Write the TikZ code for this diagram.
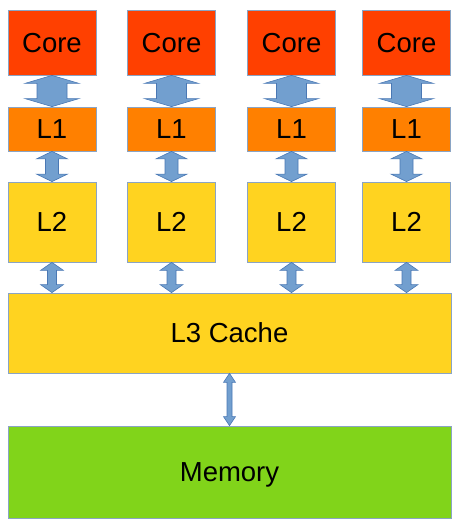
\documentclass[tikz,border=0pt]{standalone}
\usepackage{fontspec}
\setmainfont{Liberation Sans}
\usepackage{xcolor}
\usepackage{tikz}
\usetikzlibrary{calc}
\definecolor{corered}{HTML}{FF4000}
\definecolor{lone}{HTML}{FF8000}
\definecolor{cache}{HTML}{FFD320}
\definecolor{mem}{HTML}{81D41A}
\definecolor{busfill}{HTML}{729FCF}
\definecolor{busline}{HTML}{4A78B4}
\definecolor{rim}{HTML}{8AA4C4}

% double-headed block arrow: from, to, shaft half, head half, head length
\newcommand{\bus}[5]{%
  \filldraw[bus] (#1.south) -- ($(#1.south)+(#4,#5)$) -- ($(#1.south)+(#3,#5)$)
    -- ($(#2.north)+(#3,-#5)$) -- ($(#2.north)+(#4,-#5)$) -- (#2.north)
    -- ($(#2.north)+(-#4,-#5)$) -- ($(#2.north)+(-#3,-#5)$)
    -- ($(#1.south)+(-#3,#5)$) -- ($(#1.south)+(-#4,#5)$) -- cycle;}

\begin{document}
\begin{tikzpicture}[x=1pt,y=-1pt,
  font=\fontsize{27.5}{33}\selectfont,
  box/.style={draw=rim,line width=0.8pt,inner sep=0pt,text depth=0pt,minimum width=88pt,text=black},
  core/.style={box,fill=corered,minimum height=65pt},
  lone/.style={box,fill=lone,minimum height=44pt},
  ltwo/.style={box,fill=cache,minimum height=80pt},
  bus/.style={fill=busfill,draw=busline,line width=0.6pt,line join=miter,xshift=3pt},
]
\useasboundingbox (0,0) rectangle (459,529);

\node[core] at (52,42.5)    (c1) {Core};
\node[core] at (171.5,42.5) (c2) {Core};
\node[core] at (291.5,42.5) (c3) {Core};
\node[core] at (406.5,42.5) (c4) {Core};

\node[lone] at (52,129)    (a1) {L1};
\node[lone] at (171.5,129) (a2) {L1};
\node[lone] at (291.5,129) (a3) {L1};
\node[lone] at (406.5,129) (a4) {L1};

\node[ltwo] at (52,222)    (b1) {L2};
\node[ltwo] at (171.5,222) (b2) {L2};
\node[ltwo] at (291.5,222) (b3) {L2};
\node[ltwo] at (406.5,222) (b4) {L2};

\node[box,fill=cache,minimum width=443pt,minimum height=80pt] at (229.5,333) (l3) {L3 Cache};
\node[box,fill=mem,minimum width=443pt,minimum height=92pt] at (229.5,472) (mm) {Memory};

\bus{c1}{a1}{15}{27}{8}
\bus{c2}{a2}{15}{27}{8}
\bus{c3}{a3}{15}{27}{8}
\bus{c4}{a4}{15}{27}{8}

\bus{a1}{b1}{6.5}{15.5}{7.5}
\bus{a2}{b2}{6.5}{15.5}{7.5}
\bus{a3}{b3}{6.5}{15.5}{7.5}
\bus{a4}{b4}{6.5}{15.5}{7.5}

\coordinate (t1) at (b1.south |- l3.north);
\coordinate (t2) at (b2.south |- l3.north);
\coordinate (t3) at (b3.south |- l3.north);
\coordinate (t4) at (b4.south |- l3.north);
\bus{b1}{t1}{4.5}{11.5}{8}
\bus{b2}{t2}{4.5}{11.5}{8}
\bus{b3}{t3}{4.5}{11.5}{8}
\bus{b4}{t4}{4.5}{11.5}{8}

\bus{l3}{mm}{2.5}{6}{9}
\end{tikzpicture}
\end{document}
